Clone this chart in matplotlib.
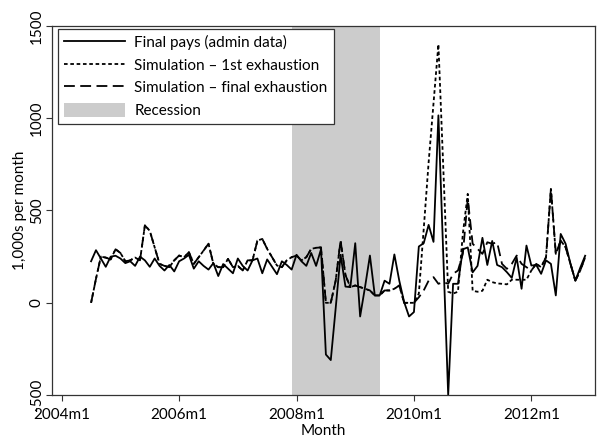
import matplotlib
matplotlib.use("Agg")
import matplotlib.pyplot as plt
from matplotlib.patches import Patch
from matplotlib.lines import Line2D

# months counted from 2004m1 (0) ; data run 2004m7 .. 2012m12
months = list(range(6, 108))

final_pays = [
    225, 285, 240, 195, 250, 255, 240, 215, 225, 200,   # 2004m7-
    250, 230, 195, 240, 200, 175, 205, 170, 225, 240,
    260, 185, 225, 200, 180, 215, 145, 210, 185, 160,
    240, 200, 175, 230, 240, 160, 235, 195, 155, 225,
    205, 180, 260, 225, 200, 270, 200, 290, -280, -310,
    -30, 260, 88, 85, 323, -74, 85, 256, 40, 40,
    120, 103, 262, 120, 4, -74, -50, 305, 323, 422,
    330, 1015, 257, -500, 103, 103, 290, 300, 165, 200,
    352, 205, 335, 205, 193, 166, 135, 245, 76, 310,
    202, 205, 157, 230, 211, 40, 373, 320, 211, 120,
    190, 255,
]

sim_first = [
    0, 130, 250, 245, 235, 290, 270, 225, 230, 245,
    230, 419, 390, 300, 211, 200, 193, 230, 256, 247,
    274, 211, 247, 283, 320, 211, 193, 193, 238, 193,
    200, 175, 230, 230, 337, 346, 292, 247, 202, 193,
    230, 247, 256, 230, 247, 292, 298, 300, 0, 0,
    120, 337, 150, 85, 94, 85, 76, 67, 40, 40,
    67, 67, 76, 94, 0, 0, 0, 50, 400, 760,
    1080, 1400, 730, 60, 50, 60, 375, 590, 65, 60,
    65, 125, 112, 105, 103, 100, 125, 125, 125, 125,
    175, 211, 193, 247, 617, 265, 337, 301, 211, 120,
    175, 247,
]

sim_final = [
    0, 130, 250, 245, 235, 290, 270, 225, 230, 245,
    230, 419, 390, 300, 211, 200, 193, 230, 256, 247,
    274, 211, 247, 283, 320, 211, 193, 193, 238, 193,
    200, 175, 230, 230, 337, 346, 292, 247, 202, 193,
    230, 247, 256, 230, 247, 292, 298, 300, 0, 0,
    120, 337, 150, 85, 94, 85, 76, 67, 40, 40,
    67, 67, 76, 94, 0, 0, 0, 30, 67, 120,
    139, 103, 112, 103, 157, 175, 265, 565, 320, 292,
    265, 328, 320, 328, 211, 184, 211, 256, 211, 193,
    175, 211, 193, 247, 617, 265, 337, 301, 211, 120,
    175, 247,
]

recession = (47, 65)  # 2007m12 .. 2009m6
xtick_pos = [0, 24, 48, 72, 96]
xtick_labels = ["2004m1", "2006m1", "2008m1", "2010m1", "2012m1"]
ytick_pos = [-500, 0, 500, 1000, 1500]
ytick_labels = ["-500", "0", "500", "1000", "1500"]

plt.rcParams["font.family"] = ["Lato", "DejaVu Sans"]
plt.rcParams["font.size"] = 11

fig = plt.figure(figsize=(6.04, 4.45), dpi=100)
ax = fig.add_axes([0.086, 0.112, 0.899, 0.830])

ax.axvspan(recession[0], recession[1], color="#cccccc", lw=0, zorder=0)
ax.plot(months, final_pays, color="black", lw=1.3, ls="-", zorder=2)
ax.plot(months, sim_first, color="black", lw=1.3, ls=(0, (2, 1.5)), zorder=3)
ax.plot(months, sim_final, color="black", lw=1.3, ls=(0, (6, 3)), zorder=4)

ax.set_xlim(-2, 109)
ax.set_ylim(-500, 1500)
ax.set_xticks(xtick_pos)
ax.set_xticklabels(xtick_labels)
ax.set_yticks(ytick_pos)
ax.set_yticklabels(ytick_labels, rotation=90, va="center")
ax.tick_params(direction="out", length=4, width=0.8, color="#333333")
ax.tick_params(axis="y", pad=2)
ax.tick_params(axis="x", pad=5)
for s in ax.spines.values():
    s.set_linewidth(0.9)
    s.set_color("#333333")

ax.set_xlabel("Month", labelpad=2)
ax.set_ylabel("1,000s per month", labelpad=2)

handles = [
    Line2D([], [], color="black", lw=1.3, ls="-"),
    Line2D([], [], color="black", lw=1.3, ls=(0, (2, 1.5))),
    Line2D([], [], color="black", lw=1.3, ls=(0, (6, 3))),
    Patch(facecolor="#cccccc", edgecolor="none"),
]
labels = ["Final pays (admin data)", "Simulation \u2013 1st exhaustion",
          "Simulation \u2013 final exhaustion", "Recession"]
leg = ax.legend(handles, labels, loc="upper left", bbox_to_anchor=(0.011, 0.992),
                borderaxespad=0, fancybox=False, framealpha=1, edgecolor="#333333",
                handlelength=4.0, handleheight=1.0, labelspacing=0.5,
                handletextpad=0.6, borderpad=0.4)
leg.get_frame().set_linewidth(0.9)

fig.savefig("out.png", dpi=100)
